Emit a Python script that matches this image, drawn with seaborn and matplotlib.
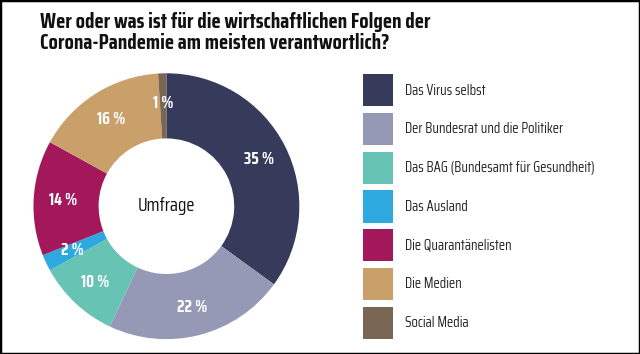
import matplotlib.pyplot as plt
from matplotlib.patches import Rectangle
import numpy as np
import seaborn as sns

sns.set_theme(style="white")
plt.rcParams['font.family'] = ['Saira Condensed', 'Roboto Condensed', 'DejaVu Sans']

# survey answers, clockwise from top
labels = ["Das Virus selbst", "Der Bundesrat und die Politiker",
          "Das BAG (Bundesamt für Gesundheit)", "Das Ausland",
          "Die Quarantänelisten", "Die Medien", "Social Media"]
shares = [35, 22, 10, 2, 14, 16, 1]
colors = ["#363a5b", "#9599b6", "#67c3b3", "#2ea9df",
          "#a2185a", "#c99f6a", "#7a6655"]

fig = plt.figure(figsize=(6.4, 3.54), dpi=100)
fig.patches.append(Rectangle((0, 0), 1, 1, transform=fig.transFigure,
                             fill=False, edgecolor="black", linewidth=2.5))

fig.text(0.063, 0.966, "Wer oder was ist für die wirtschaftlichen Folgen der\n"
         "Corona-Pandemie am meisten verantwortlich?",
         ha="left", va="top", fontsize=15.3, fontweight="bold",
         color="#111111", linespacing=1.05)

ax = fig.add_axes([0.052, 0.042, 0.416, 0.751])
wedges, _ = ax.pie(shares, colors=colors, startangle=90, counterclock=False,
                   wedgeprops=dict(width=0.49, edgecolor="none"))
ax.set_xlim(-1, 1)
ax.set_ylim(-1, 1)
ax.set_aspect("equal")

# percentage labels sitting in the ring
for w, s in zip(wedges, shares):
    ang = np.deg2rad((w.theta1 + w.theta2) / 2)
    r = 0.78
    ax.text(r * np.cos(ang), r * np.sin(ang), f"{s}\u2009%", ha="center", va="center",
            color="white", fontsize=12, fontweight="bold")

ax.text(0, 0, "Umfrage", ha="center", va="center", fontsize=13.5, color="#111111")

leg = fig.legend(wedges, labels, loc="upper left", bbox_to_anchor=(0.567, 0.79),
                 frameon=False, fontsize=10.5, handlelength=2.05, handleheight=3.0,
                 labelspacing=0.46, handletextpad=0.82, borderaxespad=0,
                 borderpad=0)

fig.savefig("out.png", dpi=100)
